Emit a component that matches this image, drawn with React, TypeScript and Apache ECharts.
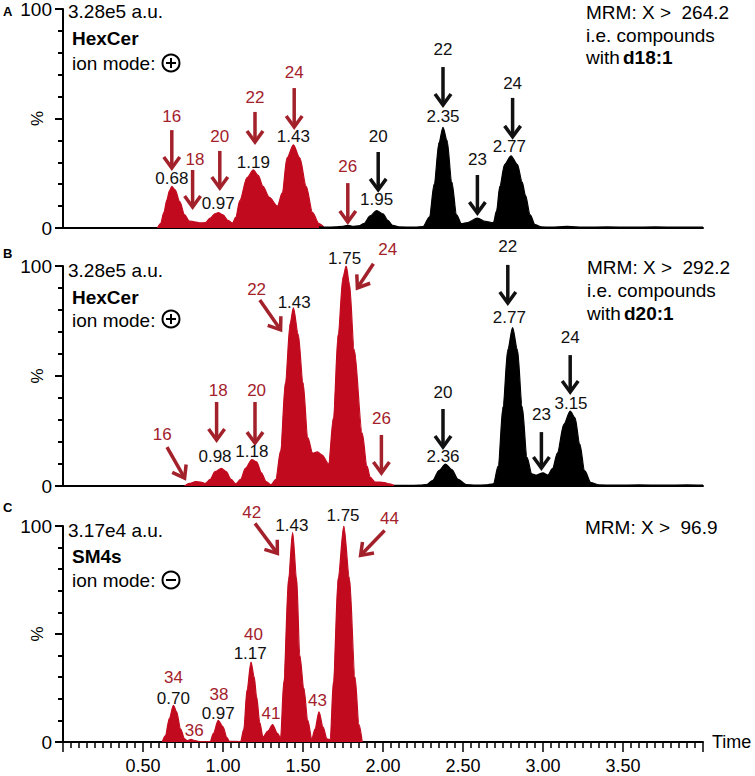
import React, { useEffect, useRef } from "react";
import * as echarts from "echarts";

// ---------- DATA (time in min, intensity in %) ----------
const redA: number[][] = [
  [0.59, 0], [0.61, 2], [0.63, 7], [0.65, 13], [0.665, 17], [0.68, 19], [0.7, 17.5], [0.73, 12], [0.76, 6],
  [0.79, 3.2], [0.82, 2.8], [0.86, 2.3], [0.89, 2.5], [0.92, 4.5], [0.95, 6.5], [0.97, 7], [1.0, 6], [1.03, 3.5],
  [1.06, 2.3], [1.08, 5], [1.105, 12.5], [1.15, 23], [1.19, 26.5], [1.22, 24], [1.25, 19], [1.29, 14], [1.34, 10],
  [1.37, 16], [1.4, 32], [1.44, 38], [1.48, 32], [1.52, 19], [1.56, 7], [1.6, 2], [1.63, 0.4],
];
const blackA: number[][] = [
  [1.6, 0.5], [1.65, 0.4], [1.7, 0.5], [1.75, 0.8], [1.78, 1.2], [1.81, 0.8], [1.85, 1], [1.88, 2], [1.92, 5.5],
  [1.96, 8], [2.0, 6.5], [2.03, 3.5], [2.06, 1.2], [2.1, 0.5], [2.2, 0.4], [2.25, 0.6], [2.29, 5], [2.32, 20],
  [2.35, 39], [2.375, 46], [2.4, 40], [2.43, 21], [2.46, 6], [2.49, 2], [2.53, 2.5], [2.59, 4.5], [2.64, 3],
  [2.69, 2.5], [2.71, 8], [2.73, 19], [2.76, 29], [2.8, 33], [2.84, 29], [2.87, 21], [2.89, 15], [2.92, 6],
  [2.95, 1.5], [2.99, 0.5], [3.05, 0.4], [3.15, 0.7], [3.25, 0.4], [3.4, 0.5], [3.55, 0.4], [3.7, 0.5],
  [3.85, 0.4], [4.0, 0.4],
];
const redB: number[][] = [
  [0.76, 0], [0.79, 1.2], [0.83, 2], [0.86, 1.8], [0.89, 1.2], [0.92, 3], [0.95, 6.5], [0.99, 8], [1.02, 6.5],
  [1.05, 3], [1.08, 1], [1.11, 3], [1.14, 8], [1.18, 12], [1.21, 11], [1.24, 6], [1.27, 2], [1.3, 0.5],
  [1.33, 3], [1.36, 16], [1.39, 47], [1.42, 74], [1.44, 81], [1.47, 69], [1.5, 47], [1.53, 22], [1.56, 15],
  [1.59, 15.5], [1.62, 14], [1.66, 10], [1.69, 31], [1.72, 69], [1.75, 95], [1.77, 100], [1.79, 92], [1.82, 62],
  [1.87, 24], [1.9, 9], [1.92, 4], [1.95, 1.8], [1.98, 1.8], [2.01, 1.5], [2.04, 1], [2.07, 0.3],
];
const blackB: number[][] = [
  [2.07, 0.3], [2.15, 0.3], [2.23, 0.4], [2.27, 0.6], [2.31, 2.5], [2.35, 7], [2.39, 10], [2.43, 7.5],
  [2.47, 3], [2.52, 0.6], [2.58, 0.4], [2.64, 0.5], [2.69, 1], [2.72, 9], [2.75, 36], [2.78, 62], [2.81, 72],
  [2.84, 62], [2.87, 36], [2.9, 13], [2.93, 5.5], [2.96, 5], [3.0, 6], [3.03, 5], [3.06, 8], [3.09, 15],
  [3.13, 28], [3.17, 34], [3.2, 31], [3.23, 19], [3.26, 7], [3.3, 1.5], [3.35, 0.5], [3.45, 0.4], [3.6, 0.5],
  [3.75, 0.4], [3.9, 0.5], [4.0, 0.4],
];
const redC: number[][] = [
  [0.62, 0], [0.64, 3], [0.665, 11], [0.69, 17], [0.71, 14], [0.735, 6], [0.76, 1.5], [0.775, 0.6], [0.8, 1.2],
  [0.825, 0.6], [0.85, 0.2], [0.92, 0.2], [0.94, 4], [0.97, 10], [1.0, 7], [1.025, 2], [1.04, 0.3], [1.11, 0.2],
  [1.13, 6], [1.15, 24], [1.175, 37], [1.195, 30], [1.21, 21], [1.23, 9], [1.25, 2.3], [1.28, 5], [1.31, 8],
  [1.34, 4], [1.36, 2], [1.38, 28], [1.41, 76], [1.435, 97], [1.46, 76], [1.48, 40], [1.505, 25], [1.53, 10],
  [1.555, 1.5], [1.575, 6], [1.6, 14], [1.625, 7], [1.65, 1.5], [1.67, 1], [1.69, 28], [1.72, 76], [1.755, 100],
  [1.79, 76], [1.825, 30], [1.85, 8], [1.87, 0],
];

// annotations: [x, y, text]
const chainLabelsRedA: any[][] = [[0.68, 51, "16"], [0.825, 31.5, "18"], [0.98, 41.6, "20"], [1.2, 59.8, "22"], [1.445, 70.8, "24"], [1.78, 27.9, "26"]];
const chainLabelsBlackA: any[][] = [[1.97, 41.6, "20"], [2.375, 81.3, "22"], [2.59, 31.5, "23"], [2.81, 66.2, "24"]];
const rtLabelsA: any[][] = [[0.68, 22.8, "0.68"], [0.97, 11, "0.97"], [1.19, 30.1, "1.19"], [1.44, 42, "1.43"], [1.96, 12.8, "1.95"], [2.375, 50.7, "2.35"], [2.79, 37, "2.77"]];
// arrows: [tailX, tailY, tipX, tipY]
const arrowsRedA: number[][] = [[0.68, 44.7, 0.68, 27.4], [0.81, 26.5, 0.81, 9.6], [0.98, 35.2, 0.98, 18.3], [1.2, 53, 1.2, 39.3], [1.445, 63.9, 1.445, 46.1], [1.78, 20.5, 1.78, 2.7]];
const arrowsBlackA: number[][] = [[1.97, 34.7, 1.97, 17.4], [2.375, 73.5, 2.375, 56.2], [2.59, 24.2, 2.59, 6.8], [2.81, 59.4, 2.81, 41.6]];

const chainLabelsRedB: any[][] = [[0.62, 23.2, "16"], [0.97, 43.6, "18"], [1.21, 43.6, "20"], [1.21, 89.5, "22"], [2.03, 107.3, "24"], [1.99, 30.5, "26"]];
const chainLabelsBlackB: any[][] = [[2.375, 42.3, "20"], [2.78, 109, "22"], [2.99, 32.3, "23"], [3.17, 67.3, "24"]];
const rtLabelsB: any[][] = [[0.95, 13.2, "0.98"], [1.18, 15.5, "1.18"], [1.445, 83.6, "1.43"], [1.76, 103.6, "1.75"], [2.375, 13.2, "2.36"], [2.79, 76.4, "2.77"], [3.175, 37.7, "3.15"]];
const arrowsRedB: number[][] = [[0.65, 17.7, 0.76, 3.6], [0.96, 38.2, 0.96, 20.9], [1.2, 38.2, 1.2, 19.5], [1.23, 84.5, 1.36, 71], [1.94, 101, 1.84, 90], [1.99, 23.2, 1.99, 5.9]];
const arrowsBlackB: number[][] = [[2.375, 35, 2.375, 17.7], [2.78, 100.5, 2.78, 83.2], [2.99, 24.5, 2.99, 8.2], [3.17, 59.5, 3.17, 42.7]];

const chainLabelsRedC: any[][] = [[0.69, 30, "34"], [0.82, 5.5, "36"], [0.975, 22.2, "38"], [1.19, 49.9, "40"], [1.3, 13.4, "41"], [1.18, 106.2, "42"], [1.59, 19.4, "43"], [2.04, 103.5, "44"]];
const rtLabelsC: any[][] = [[0.69, 20.3, "0.70"], [0.97, 13.4, "0.97"], [1.17, 41.1, "1.17"], [1.43, 100.2, "1.43"], [1.75, 104.8, "1.75"]];
const arrowsRedC: number[][] = [[1.2, 101.2, 1.34, 87.3], [2.01, 97.9, 1.86, 86.4]];

const xTicks = { min: 0, max: 4, interval: 0.5 };
const yTicks = { min: 0, max: 100, interval: 50 };

// ---------- STYLE ----------
const RED_FILL = "#c20a1f";
const RED_TEXT = "#a3212b";
const INK = "#111111";
const FONT = '"Liberation Sans", Arial, sans-serif';

function labelSeries(idx: number, labels: any[][], color: string) {
  return {
    type: "custom",
    xAxisIndex: idx,
    yAxisIndex: idx,
    clip: false,
    silent: true,
    z: 10,
    data: labels.map((l) => [l[0], l[1]]),
    renderItem: (params: any, api: any) => {
      const l = labels[params.dataIndex];
      const p = api.coord([l[0], l[1]]);
      return {
        type: "text",
        x: p[0],
        y: p[1],
        style: {
          text: l[2],
          fill: color,
          fontSize: 17,
          fontFamily: FONT,
          align: "center",
          verticalAlign: "middle",
        },
      };
    },
  };
}

function arrowSeries(idx: number, arrows: number[][], color: string) {
  return {
    type: "custom",
    xAxisIndex: idx,
    yAxisIndex: idx,
    clip: false,
    silent: true,
    z: 10,
    data: arrows.map((a) => [a[2], a[3]]),
    renderItem: (params: any, api: any) => {
      const a = arrows[params.dataIndex];
      const p0 = api.coord([a[0], a[1]]);
      const p1 = api.coord([a[2], a[3]]);
      const dx = p1[0] - p0[0];
      const dy = p1[1] - p0[1];
      const len = Math.hypot(dx, dy) || 1;
      const ux = dx / len;
      const uy = dy / len;
      const nx = -uy;
      const ny = ux;
      const H = 11;
      const W = 8;
      return {
        type: "group",
        children: [
          {
            type: "line",
            shape: { x1: p0[0], y1: p0[1], x2: p1[0] - ux * 2, y2: p1[1] - uy * 2 },
            style: { stroke: color, lineWidth: 3.5 },
          },
          {
            type: "polyline",
            shape: {
              points: [
                [p1[0] - ux * H + nx * W, p1[1] - uy * H + ny * W],
                [p1[0], p1[1]],
                [p1[0] - ux * H - nx * W, p1[1] - uy * H - ny * W],
              ],
            },
            style: { stroke: color, fill: "none", lineWidth: 3.5, lineJoin: "miter" },
          },
        ],
      };
    },
  };
}

function traceSeries(idx: number, data: number[][], color: string) {
  return {
    type: "line",
    xAxisIndex: idx,
    yAxisIndex: idx,
    data,
    symbol: "none",
    smooth: 0.3,
    smoothMonotone: "x",
    lineStyle: { color, width: 1.2 },
    areaStyle: { color, opacity: 1 },
    z: 3,
  };
}

function txt(x: number, y: number, text: string, bold = false, size = 19) {
  return {
    type: "text",
    x,
    y,
    silent: true,
    style: {
      text,
      fill: "#000",
      font: `${bold ? "bold " : ""}${size}px ${FONT}`,
      textAlign: "left",
      textVerticalAlign: "middle",
    },
  };
}

function ionSign(cx: number, cy: number, plus: boolean) {
  const els: any[] = [
    { type: "circle", shape: { cx, cy, r: 8.5 }, style: { fill: "none", stroke: "#000", lineWidth: 2 } },
    { type: "line", shape: { x1: cx - 5, y1: cy, x2: cx + 5, y2: cy }, style: { stroke: "#000", lineWidth: 2 } },
  ];
  if (plus) els.push({ type: "line", shape: { x1: cx, y1: cy - 5, x2: cx, y2: cy + 5 }, style: { stroke: "#000", lineWidth: 2 } });
  return els;
}

export default function App() {
  const ref = useRef<HTMLDivElement>(null);
  useEffect(() => {
    document.body.style.margin = "0";
    const chart = echarts.init(ref.current!, null, { renderer: "svg" });

    const grids = [
      { left: 63, right: 52, top: 9, height: 219, outerBoundsMode: "none", containLabel: false },
      { left: 63, right: 52, top: 266, height: 220, outerBoundsMode: "none", containLabel: false },
      { left: 63, right: 52, top: 526, height: 216, outerBoundsMode: "none", containLabel: false },
    ];
    const xAxes = grids.map((_, i) => ({
      type: "value",
      gridIndex: i,
      ...xTicks,
      axisLine: { show: true, onZero: false, lineStyle: { color: "#000", width: 2 } },
      splitLine: { show: false },
      axisTick: i === 2 ? { show: true, length: 10, lineStyle: { color: "#000", width: 1.5 } } : { show: false },
      minorTick: i === 2 ? { show: true, splitNumber: 10, length: 6, lineStyle: { color: "#000", width: 1.5 } } : { show: false },
      axisLabel:
        i === 2
          ? {
              show: true,
              color: "#000",
              fontSize: 18,
              fontFamily: FONT,
              margin: 15,
              formatter: (v: number) => (v === 0 || v === 4 ? "" : v.toFixed(2)),
            }
          : { show: false },
      name: i === 2 ? "Time" : "",
      nameLocation: "end",
      nameGap: 9,
      nameTextStyle: { color: "#000", fontSize: 18, fontFamily: FONT, verticalAlign: "middle" },
    }));
    const yAxes = grids.map((_, i) => ({
      type: "value",
      gridIndex: i,
      position: "left",
      ...yTicks,
      axisLine: { show: true, onZero: false, lineStyle: { color: "#000", width: 2 } },
      splitLine: { show: false },
      axisTick: { show: true, length: 8, lineStyle: { color: "#000", width: 2 } },
      minorTick: { show: true, splitNumber: 5, length: 5, lineStyle: { color: "#000", width: 2 } },
      axisLabel: {
        color: "#000",
        fontSize: 19,
        fontFamily: FONT,
        margin: 11,
        formatter: (v: number) => (v === 50 ? "" : String(v)),
      },
      name: "%",
      nameLocation: "middle",
      nameRotate: 90,
      nameGap: 17,
      nameMoveOverlap: false,
      nameTextStyle: { color: "#000", fontSize: 17, fontFamily: FONT },
    }));

    const series: any[] = [
      traceSeries(0, redA, RED_FILL),
      traceSeries(0, blackA, "#000"),
      traceSeries(1, redB, RED_FILL),
      traceSeries(1, blackB, "#000"),
      traceSeries(2, redC, RED_FILL),
      arrowSeries(0, arrowsRedA, RED_TEXT),
      arrowSeries(0, arrowsBlackA, INK),
      arrowSeries(1, arrowsRedB, RED_TEXT),
      arrowSeries(1, arrowsBlackB, INK),
      arrowSeries(2, arrowsRedC, RED_TEXT),
      labelSeries(0, chainLabelsRedA, RED_TEXT),
      labelSeries(0, chainLabelsBlackA, INK),
      labelSeries(0, rtLabelsA, INK),
      labelSeries(1, chainLabelsRedB, RED_TEXT),
      labelSeries(1, chainLabelsBlackB, INK),
      labelSeries(1, rtLabelsB, INK),
      labelSeries(2, chainLabelsRedC, RED_TEXT),
      labelSeries(2, rtLabelsC, INK),
    ];

    const graphic: any[] = [
      txt(3, 11, "A", true, 13),
      txt(3, 253, "B", true, 13),
      txt(3, 507, "C", true, 13),
      // panel A
      txt(68, 11, "3.28e5 a.u."),
      txt(72, 38, "HexCer", true),
      txt(72, 63, "ion mode:"),
      ...ionSign(171, 63, true),
      txt(586, 12, "MRM: X >  264.2"),
      txt(586, 35, "i.e. compounds"),
      txt(586, 57, "with"),
      txt(623, 57, "d18:1", true),
      // panel B
      txt(68, 270, "3.28e5 a.u."),
      txt(72, 297, "HexCer", true),
      txt(72, 320, "ion mode:"),
      ...ionSign(171, 319, true),
      txt(587, 267, "MRM: X >  292.2"),
      txt(587, 290, "i.e. compounds"),
      txt(587, 313, "with"),
      txt(624, 313, "d20:1", true),
      // panel C
      txt(68, 530, "3.17e4 a.u."),
      txt(72, 556, "SM4s", true),
      txt(72, 580, "ion mode:"),
      ...ionSign(171, 580, false),
      txt(585, 527, "MRM: X >  96.9"),
    ];

    chart.setOption({
      animation: false,
      backgroundColor: "#fff",
      grid: grids,
      xAxis: xAxes,
      yAxis: yAxes,
      series,
      graphic,
    });
    return () => chart.dispose();
  }, []);
  return <div ref={ref} style={{ position: "absolute", left: 0, top: 0, width: 755, height: 776 }} />;
}
